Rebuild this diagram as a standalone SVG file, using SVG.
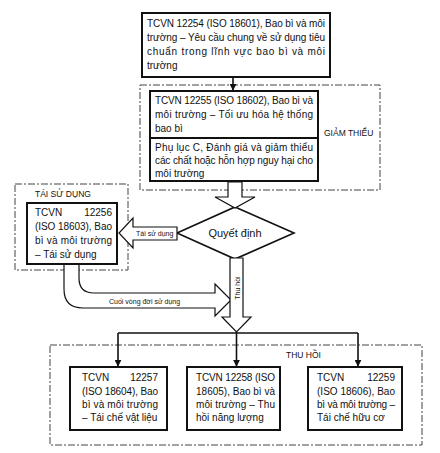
<svg xmlns="http://www.w3.org/2000/svg" width="440" height="453" viewBox="0 0 440 453">
<style>
.box{fill:#fff;stroke:#111;stroke-width:2}
.grp{fill:none;stroke:#444;stroke-width:1;stroke-dasharray:7 2 2 2}
.hol{fill:#fff;stroke:#111;stroke-width:1.2;stroke-linejoin:miter}
.ln{fill:none;stroke:#111;stroke-width:1.6}
.t{font-family:"Liberation Sans",Arial,sans-serif;font-size:10px;fill:#111}
.s{font-family:"Liberation Sans",Arial,sans-serif;font-size:7px;fill:#111}
.g{font-family:"Liberation Sans",Arial,sans-serif;font-size:8.5px;fill:#111}
.c{text-anchor:middle}
.e{text-anchor:end}
</style>
<defs>
<marker id="ah" viewBox="0 0 10 10" refX="9" refY="5" markerWidth="7" markerHeight="7" markerUnits="userSpaceOnUse" orient="auto">
<path d="M0,0 L10,5 L0,10 Z" fill="#111"/>
</marker>
</defs>
<rect width="440" height="453" fill="#fff"/>

<g id="group-giam-thieu">
<rect class="grp" x="140" y="85" width="240" height="105"/>
<text class="g" x="324" y="136">GIẢM THIỂU</text>
</g>
<g id="group-tai-su-dung">
<rect class="grp" x="15" y="184" width="113" height="86"/>
<text class="g" x="35" y="197">TÁI SỬ DỤNG</text>
</g>
<g id="group-thu-hoi">
<rect class="grp" x="50" y="345" width="372" height="100" fill="#fbfbfb"/>
<text class="g" x="286" y="358">THU HỒI</text>
</g>

<g id="n12254">
<rect class="box" x="142" y="13" width="188" height="64"/>
<text class="t" x="147" y="27" textLength="178" lengthAdjust="spacing">TCVN 12254 (ISO 18601), Bao bì và môi</text>
<text class="t" x="147" y="41" textLength="178" lengthAdjust="spacing">trường – Yêu cầu chung về sử dụng tiêu</text>
<text class="t" x="147" y="55" textLength="178" lengthAdjust="spacing">chuẩn trong lĩnh vực bao bì và môi</text>
<text class="t" x="147" y="69">trường</text>
</g>

<g id="n12255">
<rect class="box" x="150" y="91" width="168" height="90"/>
<line x1="150" y1="138" x2="318" y2="138" stroke="#111" stroke-width="2"/>
<text class="t" x="155" y="104" textLength="158" lengthAdjust="spacing">TCVN 12255 (ISO 18602), Bao bì và</text>
<text class="t" x="155" y="118" textLength="158" lengthAdjust="spacing">môi trường – Tối ưu hóa hệ thống</text>
<text class="t" x="155" y="132">bao bì</text>
<text class="t" x="155" y="151" textLength="158" lengthAdjust="spacing">Phụ lục C, Đánh giá và giảm thiểu</text>
<text class="t" x="155" y="164" textLength="158" lengthAdjust="spacing">các chất hoặc hỗn hợp nguy hại cho</text>
<text class="t" x="155" y="177">môi trường</text>
</g>

<g id="decision">
<polygon points="235,207 294,233 235,259 177,233" fill="#fff" stroke="#111" stroke-width="1.6"/>
<text class="t c" x="235" y="237" style="font-size:11px">Quyết định</text>
</g>

<g id="n12256">
<rect class="box" x="27" y="203" width="90" height="61"/>
<text class="t" x="35" y="216">TCVN</text>
<text class="t e" x="112" y="216">12256</text>
<text class="t" x="35" y="230" textLength="77" lengthAdjust="spacing">(ISO 18603), Bao</text>
<text class="t" x="35" y="244" textLength="77" lengthAdjust="spacing">bì và môi trường</text>
<text class="t" x="35" y="258">– Tái sử dụng</text>
</g>

<g id="n12257">
<rect class="box" x="70" y="367" width="97" height="63"/>
<text class="t" x="82" y="381">TCVN</text>
<text class="t e" x="158" y="381">12257</text>
<text class="t" x="82" y="395" textLength="76" lengthAdjust="spacing">(ISO 18604), Bao</text>
<text class="t" x="82" y="408" textLength="76" lengthAdjust="spacing">bì và môi trường</text>
<text class="t" x="82" y="421">– Tái chế vật liệu</text>
</g>

<g id="n12258">
<rect class="box" x="187" y="367" width="93" height="63"/>
<text class="t" x="196" y="381" textLength="79" lengthAdjust="spacing">TCVN 12258 (ISO</text>
<text class="t" x="196" y="395" textLength="79" lengthAdjust="spacing">18605), Bao bì và</text>
<text class="t" x="196" y="408" textLength="79" lengthAdjust="spacing">môi trường – Thu</text>
<text class="t" x="196" y="421">hồi năng lượng</text>
</g>

<g id="n12259">
<rect class="box" x="308" y="367" width="94" height="63"/>
<text class="t" x="317" y="381">TCVN</text>
<text class="t e" x="395" y="381">12259</text>
<text class="t" x="317" y="395" textLength="78" lengthAdjust="spacing">(ISO 18606), Bao</text>
<text class="t" x="317" y="408" textLength="78" lengthAdjust="spacing">bì và môi trường –</text>
<text class="t" x="317" y="421">Tái chế hữu cơ</text>
</g>

<g id="connectors">
<line class="ln" x1="233" y1="77" x2="233" y2="90" marker-end="url(#ah)"/>
<polygon class="hol" points="228,182 242,182 242,197 255,197 235,208 215,197 228,197"/>
<polygon class="hol" points="177,227 133,227 133,218 119,233 133,248 133,240 177,240"/>
<text class="s" x="136" y="236">Tái sử dụng</text>
<path class="hol" d="M64,265 V289 Q64,308 83,308 H215 V316 L231,300 L215,284 V293 H94 Q79,293 79,278 V265"/>
<text class="s" x="109" y="304">Cuối vòng đời sử dụng</text>
<polygon class="hol" points="230,258 243,258 243,317 251,317 236.5,332 222,317 230,317"/>
<text class="s c" transform="translate(239.5,288) rotate(-90)">Thu hồi</text>
<line class="ln" x1="118" y1="333" x2="358" y2="333"/>
<line class="ln" x1="118" y1="333" x2="118" y2="366" marker-end="url(#ah)"/>
<line class="ln" x1="236.5" y1="332" x2="236.5" y2="366" marker-end="url(#ah)"/>
<line class="ln" x1="358" y1="333" x2="358" y2="366" marker-end="url(#ah)"/>
</g>
</svg>
